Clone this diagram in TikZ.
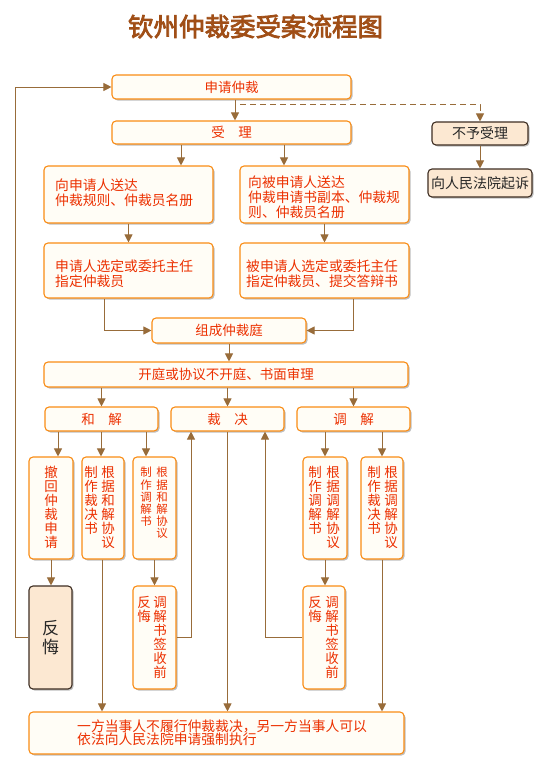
\documentclass[tikz,border=0pt]{standalone}
\usepackage{fontspec}
\setmainfont{Noto Sans CJK SC}
\newfontfamily\titlefont{Noto Sans CJK SC}[FakeBold=3]
\usetikzlibrary{shadows,arrows.meta}
\definecolor{boxline}{RGB}{250,140,20}
\definecolor{boxfill}{RGB}{255,253,246}
\definecolor{txtred}{RGB}{236,48,0}
\definecolor{arrowc}{RGB}{152,108,58}
\definecolor{beige}{RGB}{252,232,210}
\definecolor{darkline}{RGB}{62,46,34}
\definecolor{titlec}{RGB}{160,78,22}
\tikzset{
 box/.style={draw=boxline, line width=1.1pt, fill=boxfill, rounded corners=4pt,
   drop shadow={shadow xshift=1.5pt, shadow yshift=-1.5pt, opacity=0.25, fill=black}, inner sep=0pt},
 bbox/.style={box, draw=darkline, fill=beige, text=black!85},
 head/.style={text=txtred, font=\fontsize{13.5}{15}\selectfont},
 arr/.style={draw=arrowc, line width=1pt, -{Triangle[length=8pt,width=8pt]}},
 vtxt/.style={text=txtred, font=\fontsize{13.5}{14}\selectfont, align=center, inner sep=0pt, anchor=north},
 svtxt/.style={vtxt, font=\fontsize{11.5}{12.2}\selectfont},
 btxt/.style={text=txtred, font=\fontsize{13.8}{15}\selectfont, align=left, inner sep=0pt, anchor=west},
}
\begin{document}
\begin{tikzpicture}[x=1pt,y=-1pt]
\useasboundingbox[fill=white] (0,0) rectangle (533,760);
% title
\node[text=titlec, font=\titlefont\fontsize{25.5}{26}\selectfont, inner sep=0pt] (title) at (255.5,26.5) {钦州仲裁委受案流程图};
% boxes
\node[box, head, minimum width=239pt, minimum height=24pt] (ask) at (231.5,87) {申请仲裁};
\node[box, head, minimum width=239pt, minimum height=23pt] (accept) at (231.5,132.5) {受\hspace{1em}理};
\node[bbox, font=\fontsize{14}{15}\selectfont, minimum width=96pt, minimum height=23pt] (reject) at (480,133.5) {不予受理};
\node[bbox, font=\fontsize{14}{15}\selectfont, minimum width=104pt, minimum height=28pt] (court) at (480,183) {向人民法院起诉};
\node[box, minimum width=169pt, minimum height=57pt] (L1) at (128.5,194.5) {};
\node[btxt] (L1t) at (55,192.5) {向申请人送达\\仲裁规则、仲裁员名册};
\node[box, minimum width=169pt, minimum height=57pt] (R1) at (324.5,194.5) {};
\node[btxt] (R1t) at (248,197) {向被申请人送达\\仲裁申请书副本、仲裁规\\则、仲裁员名册};
\node[box, minimum width=169pt, minimum height=55pt] (L2) at (128.5,270.5) {};
\node[btxt] (L2t) at (55,274) {申请人选定或委托主任\\指定仲裁员};
\node[box, minimum width=169pt, minimum height=55pt] (R2) at (324.5,270.5) {};
\node[btxt] (R2t) at (246,274) {被申请人选定或委托主任\\指定仲裁员、提交答辩书};
\node[box, head, minimum width=154pt, minimum height=25pt] (form) at (229,330.5) {组成仲裁庭};
\node[box, head, minimum width=364pt, minimum height=25pt] (hear) at (226,374.5) {开庭或协议不开庭、书面审理};
\node[box, head, minimum width=113pt, minimum height=24pt] (he) at (101.5,419) {和\hspace{1em}解};
\node[box, head, minimum width=113pt, minimum height=24pt] (cai) at (227.5,419) {裁\hspace{1em}决};
\node[box, head, minimum width=113pt, minimum height=24pt] (tiao) at (353.5,419) {调\hspace{1em}解};
% columns
\node[box, minimum width=44pt, minimum height=102pt] (c1) at (51,508) {};
\node[vtxt] (c1t) at (51,466) {撤\\回\\仲\\裁\\申\\请};
\node[box, minimum width=42pt, minimum height=102pt] (c2) at (103,508) {};
\node[vtxt] (c2r) at (108,466) {根\\据\\和\\解\\协\\议};
\node[vtxt] (c2l) at (91,466) {制\\作\\裁\\决\\书};
\node[box, minimum width=43pt, minimum height=102pt] (c3) at (154.5,508) {};
\node[svtxt] (c3r) at (162,467) {根\\据\\和\\解\\协\\议};
\node[svtxt] (c3l) at (146,467) {制\\作\\调\\解\\书};
\node[box, minimum width=44pt, minimum height=102pt] (c4) at (325,508) {};
\node[vtxt] (c4r) at (333,466) {根\\据\\调\\解\\协\\议};
\node[vtxt] (c4l) at (315,466) {制\\作\\调\\解\\书};
\node[box, minimum width=42pt, minimum height=102pt] (c5) at (382,508) {};
\node[vtxt] (c5r) at (391,466) {根\\据\\调\\解\\协\\议};
\node[vtxt] (c5l) at (374,466) {制\\作\\裁\\决\\书};
% second row
\node[bbox, minimum width=43pt, minimum height=103pt, align=center, font=\fontsize{17}{19}\selectfont] (r1) at (50.5,637.5) {反\\悔};
\node[box, minimum width=43pt, minimum height=103pt] (r2) at (154.5,637.5) {};
\node[vtxt] (r2r) at (160,596) {调\\解\\书\\签\\收\\前};
\node[vtxt] (r2l) at (144,596) {反\\悔};
\node[box, minimum width=42pt, minimum height=103pt] (r3) at (324,637.5) {};
\node[vtxt] (r3r) at (332,596) {调\\解\\书\\签\\收\\前};
\node[vtxt] (r3l) at (315,596) {反\\悔};
% final
\node[box, minimum width=375pt, minimum height=42pt] (final) at (216.5,733) {};
\node[btxt, font=\fontsize{13.8}{13.2}\selectfont] (finalt) at (77,732.5) {一方当事人不履行仲裁裁决，另一方当事人可以\\依法向人民法院申请强制执行};
% connectors
\draw[arr] (r1.west) -- ++(-13,0) |- (ask.west);
\draw[arr] (235,0 |- ask.south) -- (235,0 |- accept.north);
\draw[arr, dash pattern=on 6pt off 4pt] (235,0 |- ask.south) -- ++(0,5) -| (reject.north);
\draw[arr] (reject.south) -- (court.north);
\draw[arr] (181,0 |- accept.south) -- (181,0 |- L1.north);
\draw[arr] (284,0 |- accept.south) -- (284,0 |- R1.north);
\draw[arr] (L1.south) -- (L2.north);
\draw[arr] (R1.south) -- (R2.north);
\draw[arr] (104,0 |- L2.south) |- (form.west);
\draw[arr] (353,0 |- R2.south) |- (form.east);
\draw[arr] (form.south) -- (form.south |- hear.north);
\draw[arr] (he.north |- hear.south) -- (he.north);
\draw[arr] (cai.north |- hear.south) -- (cai.north);
\draw[arr] (tiao.north |- hear.south) -- (tiao.north);
\draw[arr] (58,0 |- he.south) -- (58,0 |- c1.north);
\draw[arr] (101,0 |- he.south) -- (101,0 |- c2.north);
\draw[arr] (146,0 |- he.south) -- (146,0 |- c3.north);
\draw[arr] (c4.north |- tiao.south) -- (c4.north);
\draw[arr] (c5.north |- tiao.south) -- (c5.north);
\draw[arr] (c1.south) -- (c1.south |- r1.north);
\draw[arr] (c3.south) -- (c3.south |- r2.north);
\draw[arr] (c4.south) -- (c4.south |- r3.north);
\draw[arr] (102,0 |- c2.south) -- (102,0 |- final.north);
\draw[arr] (cai.south) -- (cai.south |- final.north);
\draw[arr] (c5.south) -- (c5.south |- final.north);
\draw[arr] (r2.east) -| (191,0 |- cai.south);
\draw[arr] (r3.west) -| (265,0 |- cai.south);
\end{tikzpicture}
\end{document}
